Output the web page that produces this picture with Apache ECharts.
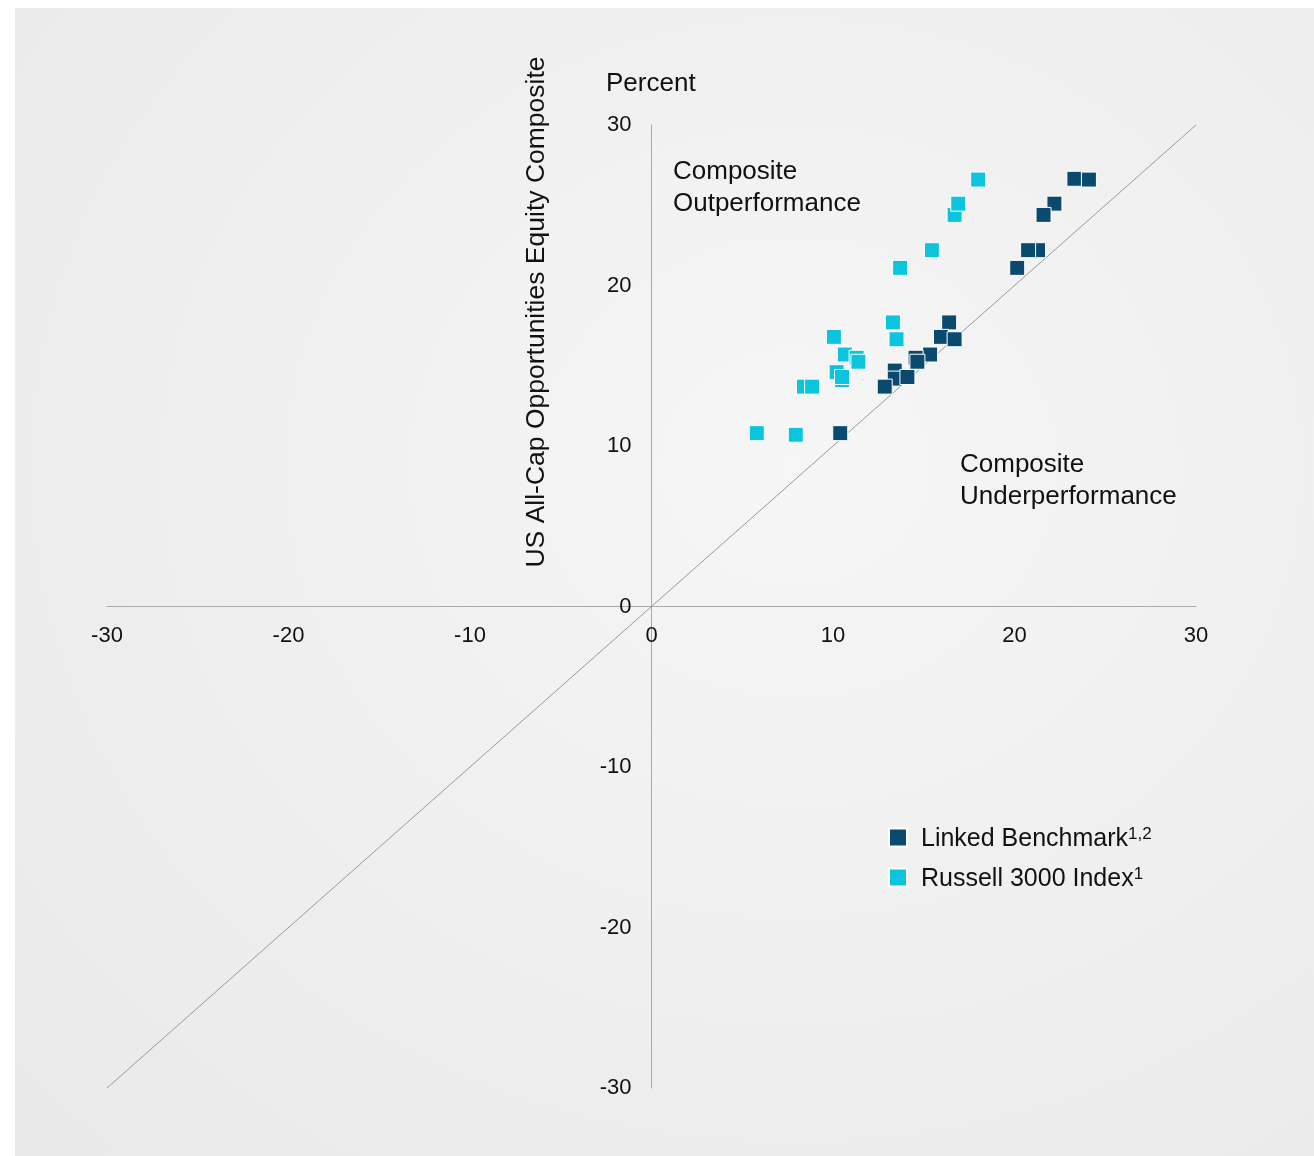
<!DOCTYPE html>
<html><head><meta charset="utf-8">
<script src="https://cdn.jsdelivr.net/npm/echarts@6/dist/echarts.min.js"></script>
<style>
html,body{margin:0;padding:0;background:#fff;}
#bg{position:absolute;left:15px;top:8px;width:1299px;height:1148px;background:radial-gradient(ellipse at 60% 40%,#f6f6f6 0%,#eeeeee 60%,#e9e9e9 100%);}
#c{position:absolute;left:0;top:0;width:1314px;height:1156px;}
</style></head>
<body><div id="bg"></div><div id="c"></div>
<script>
const xTicks = [-30,-20,-10,0,10,20,30];
const yTicks = [-30,-20,-10,0,10,20,30];
const linkedBenchmark = [
  [23.3,26.65],[24.1,26.6],[22.2,25.1],[21.6,24.4],[21.3,22.2],[20.75,22.2],[20.15,21.1],
  [16.4,17.7],[15.95,16.8],[16.7,16.65],[15.35,15.7],[14.55,15.5],[14.65,15.25],
  [13.4,14.7],[13.4,14.2],[14.1,14.3],[12.85,13.7],[10.4,10.8]
];
const russell3000 = [
  [18.0,26.6],[16.7,24.4],[16.9,25.1],[15.45,22.2],[13.7,21.1],[13.3,17.7],[13.5,16.65],
  [10.05,16.8],[10.65,15.7],[11.3,15.5],[11.4,15.25],[10.2,14.6],[10.5,14.1],[10.5,14.3],
  [8.4,13.7],[8.85,13.7],[5.8,10.8],[7.95,10.7]
];
const diagonal = [[-30,-30],[30,30]];

const chart = echarts.init(document.getElementById('c'));
const font = "'Liberation Sans', Arial, sans-serif";
const gridH = 1156-125-68, gridW = 1314-107-118;
chart.setOption({
  animation:false,
  grid:{left:107,right:118,top:125,bottom:68},
  xAxis:{type:'value',min:-30,max:30,interval:10,position:'bottom',offset:-gridH/2,
    axisLine:{onZero:false,lineStyle:{color:'#aaaaaa',width:1}},
    axisTick:{show:false},splitLine:{show:false},
    axisLabel:{color:'#111',fontSize:22,fontFamily:font,margin:18,formatter:function(v){return xTicks.indexOf(v)>=0?String(v):'';}}},
  yAxis:{type:'value',min:-30,max:30,interval:10,position:'left',offset:-gridW/2,
    axisLine:{onZero:false,lineStyle:{color:'#aaaaaa',width:1}},
    axisTick:{show:false},splitLine:{show:false},
    axisLabel:{color:'#111',fontSize:22,fontFamily:font,margin:20,formatter:function(v){return yTicks.indexOf(v)>=0?String(v):'';}}},
  legend:{left:883,top:821,orient:'vertical',itemWidth:18,itemHeight:18,itemGap:14,
    textStyle:{fontSize:25,fontFamily:font,color:'#111',
      rich:{a:{fontSize:25,fontFamily:font,color:'#111',padding:[4,0,0,9]},s:{fontSize:17,fontFamily:font,color:'#111',padding:[0,0,6,0]}}},
    formatter:function(n){return n==='Linked Benchmark'?'{a|Linked Benchmark}{s|1,2}':'{a|Russell 3000 Index}{s|1}';},
    data:[{name:'Linked Benchmark',icon:'rect'},{name:'Russell 3000 Index',icon:'rect'}]},
  graphic:[
    {type:'text',left:673,top:156,style:{text:'Composite\nOutperformance',font:'26px '+font,fill:'#111',lineHeight:32}},
    {type:'text',left:960,top:449,style:{text:'Composite\nUnderperformance',font:'26px '+font,fill:'#111',lineHeight:32}},
    {type:'text',left:606,top:71,style:{text:'Percent',font:'26px '+font,fill:'#111'}},
    {type:'text',x:537,y:312,rotation:Math.PI/2,style:{text:'US All-Cap Opportunities Equity Composite',font:'26.5px '+font,fill:'#111',align:'center',verticalAlign:'middle'}}
  ],
  series:[
    {type:'line',data:diagonal,symbol:'none',silent:true,lineStyle:{color:'#999',width:1},z:1},
    {name:'Russell 3000 Index',type:'scatter',data:russell3000,symbol:'rect',symbolSize:15,
      itemStyle:{color:'#0cc4de',borderColor:'#fff',borderWidth:1,opacity:1},z:3},
    {name:'Linked Benchmark',type:'scatter',data:linkedBenchmark,symbol:'rect',symbolSize:15,
      itemStyle:{color:'#0a4a6e',borderColor:'#fff',borderWidth:1,opacity:1},z:3}
  ]
});
</script></body></html>
